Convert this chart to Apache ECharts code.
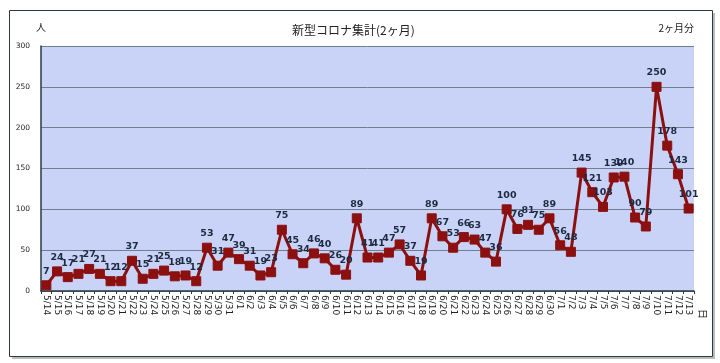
<!DOCTYPE html>
<html><head><meta charset="utf-8">
<script src="https://cdn.jsdelivr.net/npm/echarts@6/dist/echarts.min.js"></script>
<style>html,body{margin:0;padding:0;background:#fff}#c{width:720px;height:363px}</style>
</head><body><div id="c"></div>
<script>
const categories = ["5/14","5/15","5/16","5/17","5/18","5/19","5/20","5/21","5/22","5/23","5/24","5/25","5/26","5/27","5/28","5/29","5/30","5/31",
"6/1","6/2","6/3","6/4","6/5","6/6","6/7","6/8","6/9","6/10","6/11","6/12","6/13","6/14","6/15","6/16","6/17","6/18","6/19","6/20","6/21","6/22","6/23","6/24","6/25","6/26","6/27","6/28","6/29","6/30",
"7/1","7/2","7/3","7/4","7/5","7/6","7/7","7/8","7/9","7/10","7/11","7/12","7/13"];
const cases = [7,24,17,21,27,21,12,12,37,15,21,25,18,19,12,53,31,47,
39,31,19,23,75,45,34,46,40,26,20,89,41,41,47,57,37,19,89,67,53,66,63,47,36,100,76,81,75,89,
56,48,145,121,103,139,140,90,79,250,178,143,101];
const yTicks = [0,50,100,150,200,250,300];
const titleText = "新型コロナ集計(2ヶ月)";
const yUnit = "人";
const xUnit = "日";
const note = "2ヶ月分";

const chart = echarts.init(document.getElementById('c'));
const font = '"Noto Sans CJK JP","DejaVu Sans",sans-serif';
chart.setOption({
  animation:false,
  backgroundColor:'#fff',
  textStyle:{fontFamily:font},
  title:{text:titleText,left:287,top:19,textStyle:{fontSize:12,fontWeight:'normal',color:'#222',fontFamily:font}},
  graphic:[
    {type:'rect',shape:{x:12,y:13,width:703,height:346},style:{fill:'#bbb'},z:-10},
    {type:'rect',shape:{x:9.5,y:10.5,width:703,height:346},style:{fill:'#fff',stroke:'#2a3a40',lineWidth:1},z:-9},
    {type:'text',left:36,top:22,style:{text:yUnit,fontSize:10,fill:'#222',fontFamily:font}},
    {type:'text',right:26,top:23,style:{text:note,fontSize:10,fill:'#222',fontFamily:font}},
    {type:'text',x:708,y:309,rotation:-Math.PI/2,style:{text:xUnit,fontSize:10,fill:'#222',fontFamily:font}}
  ],
  grid:{left:41,right:26,top:46,bottom:72,show:true,backgroundColor:'#c9d3f7',borderWidth:0},
  xAxis:{type:'category',data:categories,boundaryGap:true,
    axisLine:{lineStyle:{color:'#2a3a40',width:1.5}},
    axisTick:{show:true,length:3,lineStyle:{color:'#2a3a40'}},
    axisLabel:{rotate:-90,interval:0,fontSize:9,color:'#222',margin:4,fontFamily:'"DejaVu Sans",sans-serif'}},
  yAxis:{type:'value',min:0,max:300,interval:50,
    axisLine:{show:true,lineStyle:{color:'#2a3a40',width:1.5}},
    axisTick:{show:false},
    splitLine:{lineStyle:{color:'#6f7f90',width:1}},
    axisLabel:{fontSize:7.5,color:'#222',margin:11,fontFamily:'"DejaVu Sans",sans-serif',
      formatter:v=>yTicks.includes(v)?String(v):''}},
  series:[{type:'line',data:cases,symbol:'rect',symbolSize:9,
    lineStyle:{color:'#8c1010',width:3},
    itemStyle:{color:'#8c1010',borderColor:'#8c1010'},
    label:{show:true,position:'top',distance:4,fontSize:9.5,fontWeight:'bold',color:'#1e2a40',fontFamily:'"DejaVu Sans",sans-serif'}}]
});
</script></body></html>
